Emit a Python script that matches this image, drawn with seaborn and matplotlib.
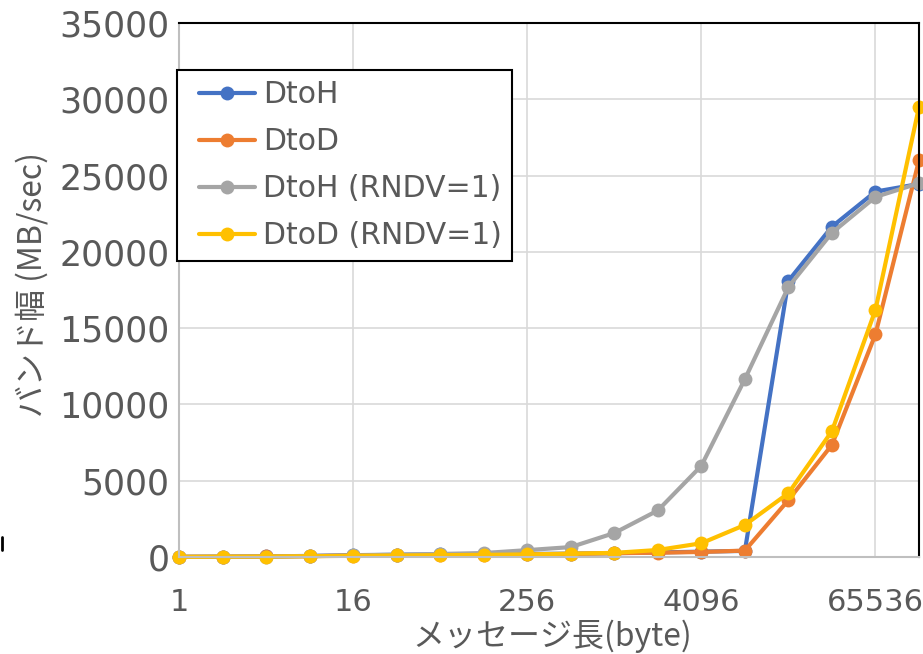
import numpy as np
import pandas as pd
import seaborn as sns
import matplotlib.pyplot as plt
from matplotlib.lines import Line2D
from matplotlib.legend_handler import HandlerLine2D
from matplotlib.ticker import FixedLocator, FuncFormatter

# message size (byte): 2^0 .. 2^17
msg_size = [2 ** i for i in range(18)]
x_ticks = [1, 16, 256, 4096, 65536]

# bandwidth (MB/sec)
dtoh = [10, 20, 40, 70, 120, 150, 170, 190, 200, 220, 250, 300, 350, 400,
        18100, 21650, 23950, 24450]
dtod = [10, 20, 35, 60, 90, 110, 130, 150, 170, 200, 250, 280, 330, 420,
        3730, 7350, 14600, 26000]
dtoh_rndv = [10, 20, 30, 60, 100, 150, 200, 260, 450, 650, 1570, 3050, 5980,
             11660, 17700, 21250, 23600, 24500]
dtod_rndv = [10, 20, 30, 50, 80, 100, 120, 140, 170, 220, 270, 460, 900, 2100,
             4180, 8250, 16200, 29500]

series = [("DtoH", dtoh, "#4472C4"),
          ("DtoD", dtod, "#ED7D31"),
          ("DtoH (RNDV=1)", dtoh_rndv, "#A5A5A5"),
          ("DtoD (RNDV=1)", dtod_rndv, "#FFC000")]

sns.set_style("white")
plt.rcParams['font.family'] = ['DejaVu Sans', 'Noto Sans CJK JP']

fig = plt.figure(figsize=(9.23, 6.54), dpi=100)
ax = fig.add_axes([179 / 923, 1 - 557 / 654, 740 / 923, 534 / 654])

for name, vals, col in series:
    df = pd.DataFrame({"size": msg_size, "bw": vals})
    sns.lineplot(data=df, x="size", y="bw", ax=ax, color=col, label=name,
                 marker="o", markersize=10, markeredgewidth=0, linewidth=3,
                 clip_on=False)

ax.set_xscale("log", base=2)
ax.set_xlim(1, 131072)
ax.set_ylim(0, 35000)
ax.xaxis.set_major_locator(FixedLocator(x_ticks))
ax.xaxis.set_minor_locator(FixedLocator([]))
ax.xaxis.set_major_formatter(FuncFormatter(lambda v, p: f"{int(round(v))}"))
ax.set_yticks(range(0, 35001, 5000))

ax.grid(True, color="#D9D9D9", linewidth=1.2)
ax.set_axisbelow(True)
ax.tick_params(axis="both", length=0, labelcolor="#595959")
ax.tick_params(axis="x", labelsize=22, pad=22)
ax.tick_params(axis="y", labelsize=25, pad=7)

for s in ["left", "bottom"]:
    ax.spines[s].set_color("#BFBFBF")
    ax.spines[s].set_linewidth(1.5)
for s in ["top", "right"]:
    ax.spines[s].set_color("black")
    ax.spines[s].set_linewidth(1.5)

ax.set_xlabel("メッセージ長(byte)", fontsize=23, color="#595959",
              family=["Noto Sans CJK JP", "DejaVu Sans"])
ax.xaxis.set_label_coords(0.505, -0.118)
ax.set_ylabel("バンド幅 (MB/sec)", fontsize=23, color="#595959",
              family=["Noto Sans CJK JP", "DejaVu Sans"])
ax.yaxis.set_label_coords(-0.176, 0.51)

leg = ax.legend(loc="upper left", bbox_to_anchor=(-0.003, 0.912),
                borderaxespad=0, fontsize=21.5, frameon=True, fancybox=False,
                handlelength=2.27, handletextpad=0.27, labelspacing=0.6,
                borderpad=0.35, labelcolor="#595959",
                handler_map={Line2D: HandlerLine2D(xpad=0.4)})
leg.get_frame().set_edgecolor("black")
leg.get_frame().set_linewidth(1.5)
leg.get_frame().set_alpha(1)

# small dark fragment at the left edge of the original screenshot
fig.add_artist(Line2D([0.002, 0.002], [1 - 550 / 654, 1 - 537 / 654],
                      transform=fig.transFigure, color="black", linewidth=2))

fig.savefig("out.png", dpi=100)
